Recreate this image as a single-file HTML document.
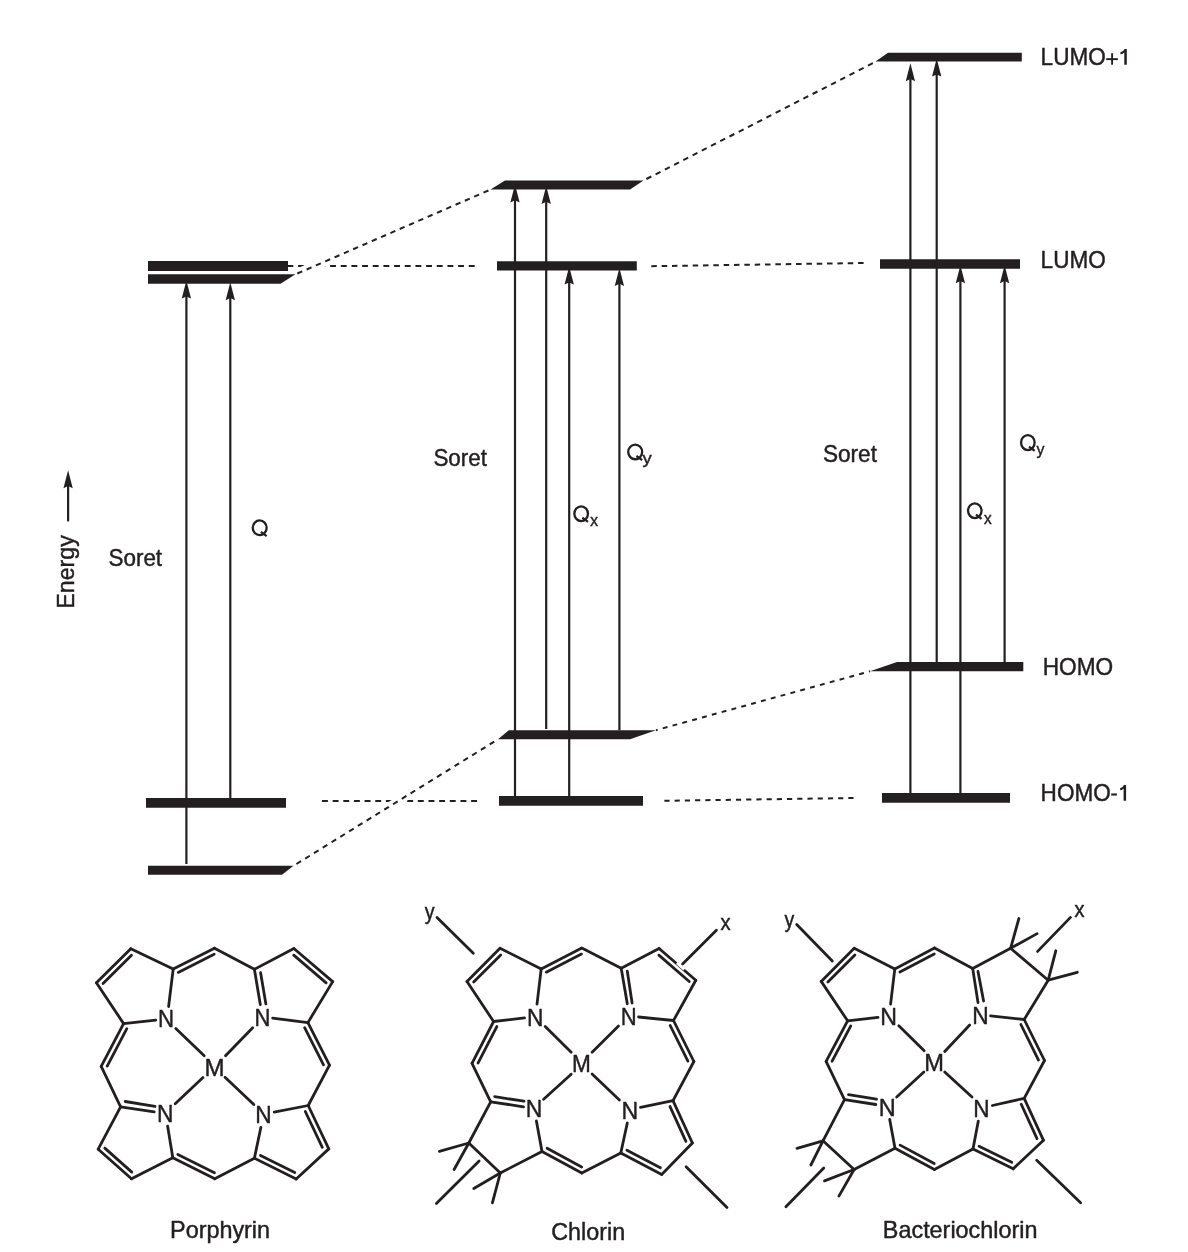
<!DOCTYPE html>
<html><head><meta charset="utf-8"><style>
html,body{margin:0;padding:0;background:#fff;width:1188px;height:1252px;overflow:hidden}
svg{display:block;will-change:transform}
text{font-family:"Liberation Sans",sans-serif;fill:#231f20;stroke:#231f20;stroke-width:0.45px;stroke-linejoin:round}
</style></head><body>
<svg width="1188" height="1252" viewBox="0 0 1188 1252">
<rect width="1188" height="1252" fill="#fff"/>
<g fill="#231f20" stroke="#231f20" stroke-linejoin="round">
<polygon stroke="none" points="148,261 288,261 288,271 148,271"/>
<polygon stroke="none" points="148,274.3 295.5,274.3 280.5,283.7 148,283.7"/>
<polygon stroke="none" points="146,798 286,798 286,807.8 146,807.8"/>
<polygon stroke="none" points="148,865.8 293.5,865.8 282,874.8 148,874.8"/>
<polygon stroke="none" points="505,180.5 643.5,180.5 630,189.6 490.5,189.6"/>
<polygon stroke="none" points="497,261.2 636.8,261.2 636.8,270.6 497,270.6"/>
<polygon stroke="none" points="508.8,730.2 656,730.2 630,739.3 498,739.3"/>
<polygon stroke="none" points="499,796 643,796 643,805.8 499,805.8"/>
<polygon stroke="none" points="888,52.8 1021.8,52.8 1021.8,61.6 875.5,61.6"/>
<polygon stroke="none" points="880,259.2 1020,259.2 1020,268.8 880,268.8"/>
<polygon stroke="none" points="897,662 1023.3,662 1023.3,671.3 870,671.3"/>
<polygon stroke="none" points="882,793 1010,793 1010,802.8 882,802.8"/>
<line x1="287" y1="266" x2="476" y2="266" stroke-width="2.0" stroke-dasharray="5.9 4.77" stroke-dashoffset="10.27"/>
<line x1="651" y1="266.2" x2="864" y2="263" stroke-width="2.0" stroke-dasharray="5.5 4.84" stroke-dashoffset="10.04"/>
<line x1="322" y1="801" x2="477" y2="801" stroke-width="2.0" stroke-dasharray="5.9 4.75" stroke-dashoffset="0"/>
<line x1="664" y1="800.8" x2="854" y2="798" stroke-width="2.0" stroke-dasharray="5.2 5.02" stroke-dashoffset="9.82"/>
<line x1="301.76" y1="271.58" x2="327.44" y2="260.42" stroke="#fff" stroke-width="9.4"/>
<line x1="387.14" y1="807.84" x2="409.26" y2="794.16" stroke="#fff" stroke-width="8.4"/>
<line x1="295.5" y1="274.3" x2="490.5" y2="189.6" stroke-width="2.0" stroke-dasharray="5.35 4.8" stroke-dashoffset="8.19"/>
<line x1="643.5" y1="180.5" x2="875.5" y2="61.8" stroke-width="2.0" stroke-dasharray="5.5 4.87" stroke-dashoffset="7.11"/>
<line x1="293.5" y1="865.8" x2="498" y2="739.3" stroke-width="2.0" stroke-dasharray="5.4 4.93" stroke-dashoffset="6.92"/>
<line x1="656" y1="730.2" x2="870" y2="671.3" stroke-width="2.0" stroke-dasharray="4.9 5.29" stroke-dashoffset="3.24"/>
<line x1="186.4" y1="864" x2="186.4" y2="295.9" stroke-width="2.2" stroke-linecap="butt"/>
<polygon stroke="none" points="186.4,280.6 191.05,298.6 186.4,296.4 181.75,298.6"/>
<line x1="230.3" y1="798" x2="230.3" y2="297.6" stroke-width="2.2" stroke-linecap="butt"/>
<polygon stroke="none" points="230.3,282.3 234.95,300.3 230.3,298.1 225.65,300.3"/>
<line x1="515" y1="796" x2="515" y2="199.7" stroke-width="2.2" stroke-linecap="butt"/>
<polygon stroke="none" points="515,184.4 519.65,202.4 515,200.2 510.35,202.4"/>
<line x1="546.2" y1="729" x2="546.2" y2="201.2" stroke-width="2.2" stroke-linecap="butt"/>
<polygon stroke="none" points="546.2,185.9 550.85,203.9 546.2,201.7 541.55,203.9"/>
<line x1="569.2" y1="796" x2="569.2" y2="281.9" stroke-width="2.2" stroke-linecap="butt"/>
<polygon stroke="none" points="569.2,266.6 573.85,284.6 569.2,282.4 564.55,284.6"/>
<line x1="619.4" y1="730.2" x2="619.4" y2="283.2" stroke-width="2.2" stroke-linecap="butt"/>
<polygon stroke="none" points="619.4,267.9 624.05,285.9 619.4,283.7 614.75,285.9"/>
<line x1="910.4" y1="793" x2="910.4" y2="78.6" stroke-width="2.2" stroke-linecap="butt"/>
<polygon stroke="none" points="910.4,63.3 915.05,81.3 910.4,79.1 905.75,81.3"/>
<line x1="936.7" y1="662" x2="936.7" y2="73.9" stroke-width="2.2" stroke-linecap="butt"/>
<polygon stroke="none" points="936.7,58.6 941.35,76.6 936.7,74.4 932.05,76.6"/>
<line x1="960.4" y1="793" x2="960.4" y2="280.6" stroke-width="2.2" stroke-linecap="butt"/>
<polygon stroke="none" points="960.4,265.3 965.05,283.3 960.4,281.1 955.75,283.3"/>
<line x1="1004.6" y1="662" x2="1004.6" y2="280.6" stroke-width="2.2" stroke-linecap="butt"/>
<polygon stroke="none" points="1004.6,265.3 1009.25,283.3 1004.6,281.1 999.95,283.3"/>
<line x1="68.1" y1="520.6" x2="68.1" y2="485.6" stroke-width="2.2" stroke-linecap="round"/>
<polygon stroke="none" points="68.1,470.3 72.75,488.3 68.1,486.1 63.45,488.3"/>
<text transform="translate(1040.62 64.8) scale(0.9477 1)" font-size="23.8" stroke="none">LUMO</text>
<text transform="translate(1040.62 267.7) scale(0.9477 1)" font-size="23.8" stroke="none">LUMO</text>
<text transform="translate(1042.71 674.9) scale(0.9524 1)" font-size="23.8" stroke="none">HOMO</text>
<text transform="translate(1040.62 800.7) scale(0.9482 1)" font-size="23.8" stroke="none">HOMO</text>
<line x1="1106.2" y1="59.15" x2="1117.9" y2="59.15" stroke-width="1.9" stroke-linecap="butt"/>
<line x1="1112.1" y1="53.2" x2="1112.1" y2="64.7" stroke-width="1.9" stroke-linecap="butt"/>
<path stroke="none" d="M1126.8,49.05 L1124.6,49.05 Q1123.7,51.65 1120.4,52.25 L1120.4,54.15 Q1123.3,53.95 1124.3,52.45 L1124.3,64.7 L1126.8,64.7 Z"/>
<line x1="1111.2" y1="794.5" x2="1116.9" y2="794.5" stroke-width="2.1" stroke-linecap="butt"/>
<path stroke="none" d="M1126.1,785.05 L1123.9,785.05 Q1123,787.65 1120.1,788.25 L1120.1,790.15 Q1122.6,789.95 1123.6,788.45 L1123.6,800.7 L1126.1,800.7 Z"/>
<text transform="translate(108.5 566.1) scale(0.9422 1)" font-size="23.8" stroke="none">Soret</text>
<text transform="translate(433.4 466.2) scale(0.9422 1)" font-size="23.8" stroke="none">Soret</text>
<text transform="translate(822.89 462) scale(0.9512 1)" font-size="23.8" stroke="none">Soret</text>
<ellipse cx="259.7" cy="527.8" rx="6.95" ry="7.35" fill="none" stroke-width="2.3"/>
<line x1="260.92" y1="531.79" x2="266.67" y2="536.04" stroke-width="2.2" stroke-linecap="butt"/>
<ellipse cx="581.15" cy="513.7" rx="6.8" ry="7.35" fill="none" stroke-width="2.3"/>
<line x1="582.34" y1="517.7" x2="587.99" y2="521.95" stroke-width="2.2" stroke-linecap="butt"/>
<ellipse cx="635.2" cy="451.9" rx="6.95" ry="7.35" fill="none" stroke-width="2.3"/>
<line x1="636.41" y1="455.89" x2="642.17" y2="460.14" stroke-width="2.2" stroke-linecap="butt"/>
<ellipse cx="974.8" cy="510.7" rx="6.75" ry="7.35" fill="none" stroke-width="2.3"/>
<line x1="975.99" y1="514.7" x2="981.59" y2="518.95" stroke-width="2.2" stroke-linecap="butt"/>
<ellipse cx="1027.85" cy="442.6" rx="6.8" ry="7.45" fill="none" stroke-width="2.3"/>
<line x1="1029.04" y1="446.64" x2="1034.69" y2="450.94" stroke-width="2.2" stroke-linecap="butt"/>
<text transform="translate(590.17 525.7) scale(0.9130 1)" font-size="17" stroke="none">x</text>
<text transform="translate(642.62 463.8) scale(1.0882 1)" font-size="17" stroke="none">y</text>
<text transform="translate(984.07 523.9) scale(0.9007 1)" font-size="17" stroke="none">x</text>
<text transform="translate(1036.42 454.6) scale(0.9353 1)" font-size="17" stroke="none">y</text>
<g transform="translate(74.1 606.8) rotate(-90)"><text transform="translate(-1.85 0) scale(0.9740 1)" font-size="23.8" stroke="none">Energy</text></g>
<text transform="translate(170.05 1237.7) scale(0.9823 1)" font-size="23.8" stroke="none">Porphyrin</text>
<text transform="translate(551.26 1239.8) scale(0.9802 1)" font-size="23.8" stroke="none">Chlorin</text>
<text transform="translate(882.85 1238) scale(0.9829 1)" font-size="23.8" stroke="none">Bacteriochlorin</text>
<line x1="123.6" y1="1023.6" x2="96.4" y2="982.8" stroke-width="2.8" stroke-linecap="round"/>
<line x1="96.4" y1="982.8" x2="130.8" y2="948.7" stroke-width="2.8" stroke-linecap="round"/>
<line x1="103.04" y1="983.54" x2="131.48" y2="955.35" stroke-width="2.8" stroke-linecap="round"/>
<line x1="130.8" y1="948.7" x2="173.2" y2="969.1" stroke-width="2.8" stroke-linecap="round"/>
<line x1="173.2" y1="969.1" x2="168.6" y2="1006.5" stroke-width="2.8" stroke-linecap="round"/>
<line x1="155.8" y1="1020.2" x2="123.6" y2="1023.6" stroke-width="2.8" stroke-linecap="round"/>
<line x1="173.2" y1="969.1" x2="214.5" y2="948.2" stroke-width="2.8" stroke-linecap="round"/>
<line x1="178.22" y1="972.39" x2="214.17" y2="954.19" stroke-width="2.8" stroke-linecap="round"/>
<line x1="214.5" y1="948.2" x2="254.4" y2="969.3" stroke-width="2.8" stroke-linecap="round"/>
<line x1="254.4" y1="969.3" x2="260.3" y2="1004.5" stroke-width="2.8" stroke-linecap="round"/>
<line x1="260.6" y1="972.7" x2="265.9" y2="1003.9" stroke-width="2.8" stroke-linecap="round"/>
<line x1="272.7" y1="1018.2" x2="307.9" y2="1022.6" stroke-width="2.8" stroke-linecap="round"/>
<line x1="307.9" y1="1022.6" x2="332.7" y2="981.6" stroke-width="2.8" stroke-linecap="round"/>
<line x1="332.7" y1="981.6" x2="293.9" y2="948.5" stroke-width="2.8" stroke-linecap="round"/>
<line x1="326.13" y1="982.83" x2="293.72" y2="955.18" stroke-width="2.8" stroke-linecap="round"/>
<line x1="293.9" y1="948.5" x2="254.4" y2="969.3" stroke-width="2.8" stroke-linecap="round"/>
<line x1="307.9" y1="1022.6" x2="329.5" y2="1065.2" stroke-width="2.8" stroke-linecap="round"/>
<line x1="304.62" y1="1027.63" x2="323.51" y2="1064.88" stroke-width="2.8" stroke-linecap="round"/>
<line x1="329.5" y1="1065.2" x2="308.2" y2="1105.5" stroke-width="2.8" stroke-linecap="round"/>
<line x1="308.2" y1="1105.5" x2="274.2" y2="1112.1" stroke-width="2.8" stroke-linecap="round"/>
<line x1="260.9" y1="1127.3" x2="254.4" y2="1158.2" stroke-width="2.8" stroke-linecap="round"/>
<line x1="254.4" y1="1158.2" x2="296.2" y2="1179" stroke-width="2.8" stroke-linecap="round"/>
<line x1="260.48" y1="1155.42" x2="294.76" y2="1172.47" stroke-width="2.8" stroke-linecap="round"/>
<line x1="296.2" y1="1179" x2="328.8" y2="1148.9" stroke-width="2.8" stroke-linecap="round"/>
<line x1="328.8" y1="1148.9" x2="308.2" y2="1105.5" stroke-width="2.8" stroke-linecap="round"/>
<line x1="322.3" y1="1147.34" x2="305.3" y2="1111.52" stroke-width="2.8" stroke-linecap="round"/>
<line x1="254.4" y1="1158.2" x2="214.8" y2="1178.8" stroke-width="2.8" stroke-linecap="round"/>
<line x1="214.8" y1="1178.8" x2="172.8" y2="1157.7" stroke-width="2.8" stroke-linecap="round"/>
<line x1="214.45" y1="1172.81" x2="177.82" y2="1154.4" stroke-width="2.8" stroke-linecap="round"/>
<line x1="172.8" y1="1157.7" x2="167.6" y2="1126.1" stroke-width="2.8" stroke-linecap="round"/>
<line x1="154.2" y1="1111.8" x2="120.6" y2="1106.8" stroke-width="2.8" stroke-linecap="round"/>
<line x1="155" y1="1106.4" x2="125.2" y2="1101.5" stroke-width="2.8" stroke-linecap="round"/>
<line x1="120.6" y1="1106.8" x2="98.2" y2="1149.2" stroke-width="2.8" stroke-linecap="round"/>
<line x1="98.2" y1="1149.2" x2="131.5" y2="1178.8" stroke-width="2.8" stroke-linecap="round"/>
<line x1="104.79" y1="1148.1" x2="131.82" y2="1172.12" stroke-width="2.8" stroke-linecap="round"/>
<line x1="131.5" y1="1178.8" x2="172.8" y2="1157.7" stroke-width="2.8" stroke-linecap="round"/>
<line x1="120.6" y1="1106.8" x2="101.2" y2="1066.4" stroke-width="2.8" stroke-linecap="round"/>
<line x1="101.2" y1="1066.4" x2="123.6" y2="1023.6" stroke-width="2.8" stroke-linecap="round"/>
<line x1="107.2" y1="1066.15" x2="126.82" y2="1028.67" stroke-width="2.8" stroke-linecap="round"/>
<line x1="175.8" y1="1028.5" x2="204.2" y2="1055.8" stroke-width="2.8" stroke-linecap="round"/>
<line x1="252.7" y1="1027.7" x2="225.5" y2="1055.8" stroke-width="2.8" stroke-linecap="round"/>
<line x1="175.2" y1="1103.8" x2="203" y2="1077.6" stroke-width="2.8" stroke-linecap="round"/>
<line x1="253.8" y1="1104.5" x2="225" y2="1077.3" stroke-width="2.8" stroke-linecap="round"/>
<text transform="translate(157.95 1027.3) scale(0.9341 1)" font-size="23.8" stroke="none">N</text>
<text transform="translate(254.56 1025.8) scale(0.9266 1)" font-size="23.8" stroke="none">N</text>
<text transform="translate(156.9 1121.5) scale(0.9566 1)" font-size="23.8" stroke="none">N</text>
<text transform="translate(255.2 1122.7) scale(0.9566 1)" font-size="23.8" stroke="none">N</text>
<text transform="translate(204.4 1075.8) scale(1.0128 1)" font-size="23.8" stroke="none">M</text>
<line x1="493.6" y1="1021.5" x2="467" y2="981.4" stroke-width="2.8" stroke-linecap="round"/>
<line x1="467" y1="981.4" x2="500" y2="948.3" stroke-width="2.8" stroke-linecap="round"/>
<line x1="473.65" y1="982.1" x2="500.72" y2="954.95" stroke-width="2.8" stroke-linecap="round"/>
<line x1="500" y1="948.3" x2="541.2" y2="968.9" stroke-width="2.8" stroke-linecap="round"/>
<line x1="541.2" y1="968.9" x2="537" y2="1004.1" stroke-width="2.8" stroke-linecap="round"/>
<line x1="524.5" y1="1017.9" x2="493.6" y2="1021.5" stroke-width="2.8" stroke-linecap="round"/>
<line x1="541.2" y1="968.9" x2="581.8" y2="948.1" stroke-width="2.8" stroke-linecap="round"/>
<line x1="546.24" y1="972.16" x2="581.5" y2="954.1" stroke-width="2.8" stroke-linecap="round"/>
<line x1="581.8" y1="948.1" x2="621.2" y2="968.2" stroke-width="2.8" stroke-linecap="round"/>
<line x1="621.2" y1="968.2" x2="627.3" y2="1003.8" stroke-width="2.8" stroke-linecap="round"/>
<line x1="627.3" y1="971.2" x2="632.1" y2="1003" stroke-width="2.8" stroke-linecap="round"/>
<line x1="638.6" y1="1017" x2="673.5" y2="1020.5" stroke-width="2.8" stroke-linecap="round"/>
<line x1="673.5" y1="1020.5" x2="695.8" y2="980.3" stroke-width="2.8" stroke-linecap="round"/>
<line x1="695.8" y1="980.3" x2="659.1" y2="948.5" stroke-width="2.8" stroke-linecap="round"/>
<line x1="689.22" y1="981.48" x2="658.87" y2="955.18" stroke-width="2.8" stroke-linecap="round"/>
<line x1="659.1" y1="948.5" x2="621.2" y2="968.2" stroke-width="2.8" stroke-linecap="round"/>
<line x1="673.5" y1="1020.5" x2="693.9" y2="1061.5" stroke-width="2.8" stroke-linecap="round"/>
<line x1="670.18" y1="1025.5" x2="687.91" y2="1061.13" stroke-width="2.8" stroke-linecap="round"/>
<line x1="693.9" y1="1061.5" x2="673" y2="1100.6" stroke-width="2.8" stroke-linecap="round"/>
<line x1="673" y1="1100.6" x2="640.5" y2="1107.4" stroke-width="2.8" stroke-linecap="round"/>
<line x1="627.3" y1="1123" x2="620.8" y2="1152.9" stroke-width="2.8" stroke-linecap="round"/>
<line x1="620.8" y1="1152.9" x2="661.7" y2="1174.4" stroke-width="2.8" stroke-linecap="round"/>
<line x1="626.94" y1="1150.25" x2="660.4" y2="1167.84" stroke-width="2.8" stroke-linecap="round"/>
<line x1="661.7" y1="1174.4" x2="692.4" y2="1143" stroke-width="2.8" stroke-linecap="round"/>
<line x1="692.4" y1="1143" x2="673" y2="1100.6" stroke-width="2.8" stroke-linecap="round"/>
<line x1="685.92" y1="1141.34" x2="670.02" y2="1106.58" stroke-width="2.8" stroke-linecap="round"/>
<line x1="620.8" y1="1152.9" x2="581.8" y2="1173" stroke-width="2.8" stroke-linecap="round"/>
<line x1="581.8" y1="1173" x2="542" y2="1151.4" stroke-width="2.8" stroke-linecap="round"/>
<line x1="581.64" y1="1167" x2="547.12" y2="1148.26" stroke-width="2.8" stroke-linecap="round"/>
<line x1="542" y1="1151.4" x2="536.4" y2="1121" stroke-width="2.8" stroke-linecap="round"/>
<line x1="523.5" y1="1106.8" x2="490.7" y2="1101.8" stroke-width="2.8" stroke-linecap="round"/>
<line x1="524" y1="1101.2" x2="494.7" y2="1096.7" stroke-width="2.8" stroke-linecap="round"/>
<line x1="490.7" y1="1101.8" x2="468.8" y2="1143" stroke-width="2.8" stroke-linecap="round"/>
<line x1="468.8" y1="1143" x2="500.3" y2="1173" stroke-width="2.8" stroke-linecap="round"/>
<line x1="500.3" y1="1173" x2="542" y2="1151.4" stroke-width="2.8" stroke-linecap="round"/>
<line x1="490.7" y1="1101.8" x2="472" y2="1063.3" stroke-width="2.8" stroke-linecap="round"/>
<line x1="472" y1="1063.3" x2="493.6" y2="1021.5" stroke-width="2.8" stroke-linecap="round"/>
<line x1="478" y1="1063.02" x2="496.84" y2="1026.55" stroke-width="2.8" stroke-linecap="round"/>
<line x1="545.2" y1="1026.5" x2="571.2" y2="1052.3" stroke-width="2.8" stroke-linecap="round"/>
<line x1="618.5" y1="1026.1" x2="592.1" y2="1052.3" stroke-width="2.8" stroke-linecap="round"/>
<line x1="543.6" y1="1099.2" x2="571.2" y2="1074.2" stroke-width="2.8" stroke-linecap="round"/>
<line x1="619.4" y1="1100" x2="592.1" y2="1073.9" stroke-width="2.8" stroke-linecap="round"/>
<text transform="translate(526.9 1025.8) scale(0.9566 1)" font-size="23.8" stroke="none">N</text>
<text transform="translate(620.86 1024.5) scale(0.9266 1)" font-size="23.8" stroke="none">N</text>
<text transform="translate(525.69 1117.4) scale(0.9641 1)" font-size="23.8" stroke="none">N</text>
<text transform="translate(621.38 1118.8) scale(0.9716 1)" font-size="23.8" stroke="none">N</text>
<text transform="translate(571.92 1071.5) scale(0.9501 1)" font-size="23.8" stroke="none">M</text>
<line x1="437" y1="917.4" x2="473.3" y2="953.3" stroke-width="2.8" stroke-linecap="round"/>
<text transform="translate(424.73 919.2) scale(0.8955 1)" font-size="22" stroke="none">y</text>
<line x1="676.9" y1="962.9" x2="684.3" y2="969.3" stroke="#fff" stroke-width="3.0"/>
<line x1="682.6" y1="964.1" x2="716.4" y2="930.3" stroke-width="2.8" stroke-linecap="round"/>
<text transform="translate(720.52 930) scale(0.9138 1)" font-size="22" stroke="none">x</text>
<line x1="468.8" y1="1143" x2="439.4" y2="1151.4" stroke-width="2.8" stroke-linecap="round"/>
<line x1="468.8" y1="1143" x2="454.1" y2="1169.5" stroke-width="2.8" stroke-linecap="round"/>
<line x1="500.3" y1="1173" x2="473.8" y2="1188.5" stroke-width="2.8" stroke-linecap="round"/>
<line x1="500.3" y1="1173" x2="492.4" y2="1202.9" stroke-width="2.8" stroke-linecap="round"/>
<line x1="436.4" y1="1203.6" x2="479.1" y2="1160.9" stroke-width="2.8" stroke-linecap="round"/>
<line x1="686.1" y1="1166.8" x2="727" y2="1207.6" stroke-width="2.8" stroke-linecap="round"/>
<line x1="847.6" y1="1020.8" x2="821.2" y2="981.4" stroke-width="2.8" stroke-linecap="round"/>
<line x1="821.2" y1="981.4" x2="854.2" y2="948.3" stroke-width="2.8" stroke-linecap="round"/>
<line x1="827.85" y1="982.1" x2="854.92" y2="954.95" stroke-width="2.8" stroke-linecap="round"/>
<line x1="854.2" y1="948.3" x2="894.8" y2="968.9" stroke-width="2.8" stroke-linecap="round"/>
<line x1="894.8" y1="968.9" x2="890.6" y2="1004.1" stroke-width="2.8" stroke-linecap="round"/>
<line x1="878" y1="1017.4" x2="847.6" y2="1020.8" stroke-width="2.8" stroke-linecap="round"/>
<line x1="894.8" y1="968.9" x2="934.5" y2="948" stroke-width="2.8" stroke-linecap="round"/>
<line x1="899.88" y1="972.1" x2="934.27" y2="954" stroke-width="2.8" stroke-linecap="round"/>
<line x1="934.5" y1="948" x2="972.7" y2="968.5" stroke-width="2.8" stroke-linecap="round"/>
<line x1="972.7" y1="968.5" x2="978" y2="1002.6" stroke-width="2.8" stroke-linecap="round"/>
<line x1="978" y1="971.5" x2="983.6" y2="1001" stroke-width="2.8" stroke-linecap="round"/>
<line x1="990.6" y1="1015.9" x2="1024.2" y2="1019.5" stroke-width="2.8" stroke-linecap="round"/>
<line x1="1024.2" y1="1019.5" x2="1048.2" y2="980.2" stroke-width="2.8" stroke-linecap="round"/>
<line x1="1048.2" y1="980.2" x2="1010.6" y2="948.3" stroke-width="2.8" stroke-linecap="round"/>
<line x1="1010.6" y1="948.3" x2="972.7" y2="968.5" stroke-width="2.8" stroke-linecap="round"/>
<line x1="1024.2" y1="1019.5" x2="1044.5" y2="1060.5" stroke-width="2.8" stroke-linecap="round"/>
<line x1="1020.87" y1="1024.5" x2="1038.51" y2="1060.12" stroke-width="2.8" stroke-linecap="round"/>
<line x1="1044.5" y1="1060.5" x2="1024.2" y2="1098.3" stroke-width="2.8" stroke-linecap="round"/>
<line x1="1024.2" y1="1098.3" x2="992.4" y2="1105.5" stroke-width="2.8" stroke-linecap="round"/>
<line x1="978.3" y1="1121.1" x2="973" y2="1149.1" stroke-width="2.8" stroke-linecap="round"/>
<line x1="973" y1="1149.1" x2="1013.2" y2="1168.8" stroke-width="2.8" stroke-linecap="round"/>
<line x1="979.06" y1="1146.28" x2="1011.72" y2="1162.28" stroke-width="2.8" stroke-linecap="round"/>
<line x1="1013.2" y1="1168.8" x2="1043.5" y2="1140.3" stroke-width="2.8" stroke-linecap="round"/>
<line x1="1043.5" y1="1140.3" x2="1024.2" y2="1098.3" stroke-width="2.8" stroke-linecap="round"/>
<line x1="1037.02" y1="1138.65" x2="1021.23" y2="1104.29" stroke-width="2.8" stroke-linecap="round"/>
<line x1="973" y1="1149.1" x2="934.4" y2="1169.5" stroke-width="2.8" stroke-linecap="round"/>
<line x1="934.4" y1="1169.5" x2="895" y2="1148.3" stroke-width="2.8" stroke-linecap="round"/>
<line x1="934.22" y1="1163.5" x2="900.11" y2="1145.14" stroke-width="2.8" stroke-linecap="round"/>
<line x1="895" y1="1148.3" x2="889.7" y2="1119.5" stroke-width="2.8" stroke-linecap="round"/>
<line x1="875.8" y1="1104.5" x2="844.5" y2="1099.7" stroke-width="2.8" stroke-linecap="round"/>
<line x1="876.5" y1="1099.2" x2="848.5" y2="1094.7" stroke-width="2.8" stroke-linecap="round"/>
<line x1="844.5" y1="1099.7" x2="823" y2="1140.8" stroke-width="2.8" stroke-linecap="round"/>
<line x1="823" y1="1140.8" x2="854.1" y2="1169.5" stroke-width="2.8" stroke-linecap="round"/>
<line x1="854.1" y1="1169.5" x2="895" y2="1148.3" stroke-width="2.8" stroke-linecap="round"/>
<line x1="844.5" y1="1099.7" x2="826.1" y2="1061.4" stroke-width="2.8" stroke-linecap="round"/>
<line x1="826.1" y1="1061.4" x2="847.6" y2="1020.8" stroke-width="2.8" stroke-linecap="round"/>
<line x1="832.1" y1="1061.18" x2="850.79" y2="1025.88" stroke-width="2.8" stroke-linecap="round"/>
<line x1="898.8" y1="1025.8" x2="924.2" y2="1050.8" stroke-width="2.8" stroke-linecap="round"/>
<line x1="969.7" y1="1025" x2="944.7" y2="1051.5" stroke-width="2.8" stroke-linecap="round"/>
<line x1="896.7" y1="1097" x2="923.9" y2="1072" stroke-width="2.8" stroke-linecap="round"/>
<line x1="972" y1="1097" x2="944.7" y2="1072" stroke-width="2.8" stroke-linecap="round"/>
<text transform="translate(880.17 1024.5) scale(0.9716 1)" font-size="23.8" stroke="none">N</text>
<text transform="translate(972.3 1023.8) scale(0.9566 1)" font-size="23.8" stroke="none">N</text>
<text transform="translate(878.65 1115.9) scale(0.9866 1)" font-size="23.8" stroke="none">N</text>
<text transform="translate(973.22 1116.5) scale(0.9491 1)" font-size="23.8" stroke="none">N</text>
<text transform="translate(924.13 1070.9) scale(0.9940 1)" font-size="23.8" stroke="none">M</text>
<line x1="796.7" y1="924.5" x2="832.3" y2="960.9" stroke-width="2.8" stroke-linecap="round"/>
<text transform="translate(784.43 926.5) scale(0.8864 1)" font-size="22" stroke="none">y</text>
<line x1="1037.6" y1="951.4" x2="1070.5" y2="917.4" stroke-width="2.8" stroke-linecap="round"/>
<text transform="translate(1074.53 917.4) scale(0.9044 1)" font-size="22" stroke="none">x</text>
<line x1="1010.6" y1="948.3" x2="1018.9" y2="918.5" stroke-width="2.8" stroke-linecap="round"/>
<line x1="1010.6" y1="948.3" x2="1037.1" y2="933.6" stroke-width="2.8" stroke-linecap="round"/>
<line x1="1048.2" y1="980.2" x2="1055.8" y2="950.8" stroke-width="2.8" stroke-linecap="round"/>
<line x1="1048.2" y1="980.2" x2="1077.3" y2="972.3" stroke-width="2.8" stroke-linecap="round"/>
<line x1="823" y1="1140.8" x2="797" y2="1148.3" stroke-width="2.8" stroke-linecap="round"/>
<line x1="823" y1="1140.8" x2="810.9" y2="1165" stroke-width="2.8" stroke-linecap="round"/>
<line x1="854.1" y1="1169.5" x2="824.5" y2="1180.9" stroke-width="2.8" stroke-linecap="round"/>
<line x1="854.1" y1="1169.5" x2="838.9" y2="1196.1" stroke-width="2.8" stroke-linecap="round"/>
<line x1="785.9" y1="1206.7" x2="823.8" y2="1168" stroke-width="2.8" stroke-linecap="round"/>
<line x1="1036.7" y1="1160.2" x2="1080.6" y2="1202.8" stroke-width="2.8" stroke-linecap="round"/>
</g>
</svg>
</body></html>
